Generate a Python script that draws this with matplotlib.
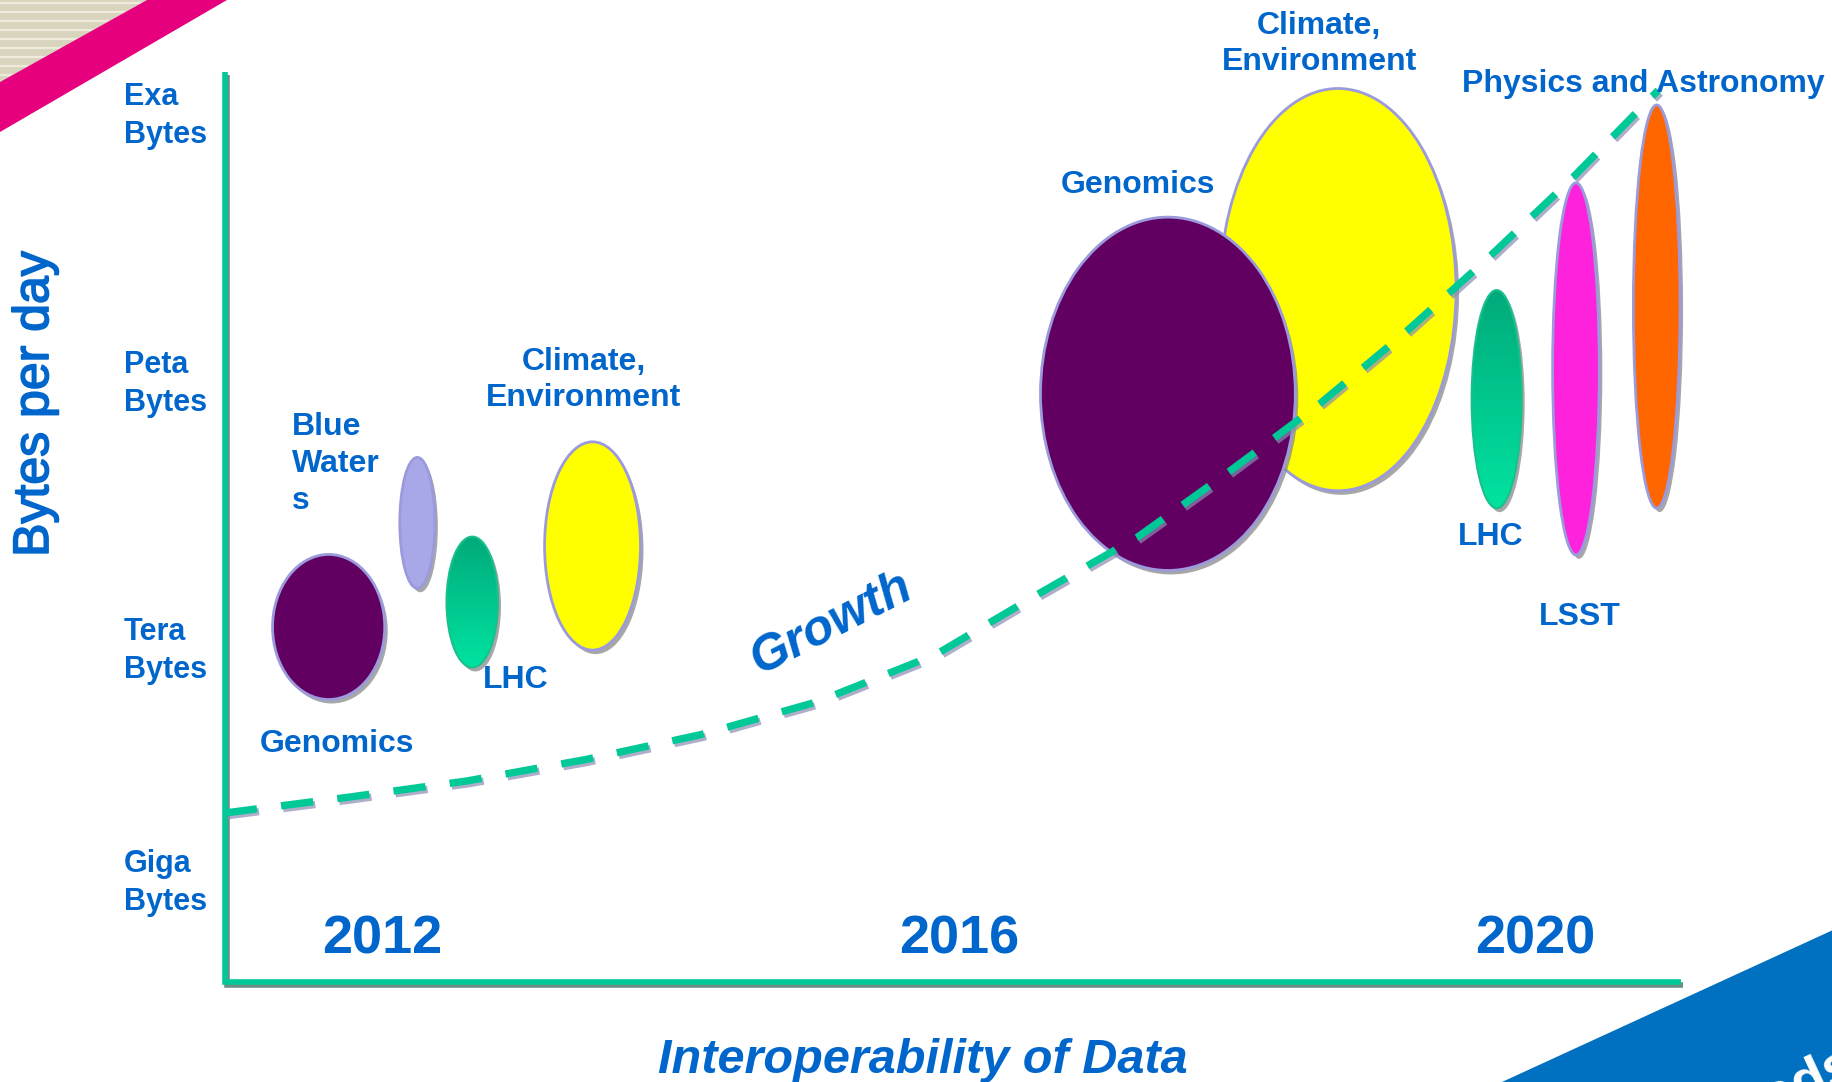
import numpy as np
import matplotlib.pyplot as plt
from matplotlib.patches import Ellipse, Polygon
from matplotlib.colors import LinearSegmentedColormap
import matplotlib.transforms as mtrans
import matplotlib.patheffects as pe

plt.rcParams['font.family'] = ['Liberation Sans', 'DejaVu Sans']

# bubbles: centre year, centre log10(bytes per day), width in years, height in decades
bubble_names = ["Genomics 2012", "Blue Waters", "LHC 2012", "Climate 2012",
                "Climate 2018", "Genomics 2018", "LHC 2020", "LSST", "Physics/Astro"]
bubble_x = [2011.63, 2012.245, 2012.626, 2013.46, 2018.63, 2017.45, 2019.73, 2020.28, 2020.84]
bubble_y = [12.27, 13.44, 12.55, 13.18, 16.06, 14.89, 14.83, 15.17, 15.87]
bubble_w = [0.778, 0.243, 0.357, 0.665, 1.637, 1.767, 0.347, 0.324, 0.324]
bubble_h = [1.63, 1.47, 1.47, 2.34, 4.52, 3.97, 2.45, 4.18, 4.53]
bubble_colors = ["#620062", "#A8A8E8", "grad", "#FFFF00", "#FFFF00",
                 "#620062", "grad", "#FF22DD", "#FF6600"]

# growth curve (dashed)
growth_year = [2010.91, 2011.78, 2012.59, 2013.41, 2014.21, 2015.02, 2015.84, 2016.54,
               2017.24, 2017.87, 2018.49, 2019.09, 2019.68, 2020.24, 2020.85]
growth_logb = [10.18, 10.36, 10.54, 10.78, 11.06, 11.43, 11.96, 12.63,
               13.28, 14.01, 14.76, 15.57, 16.43, 17.29, 18.30]

# annotations
label_text = ["Genomics", "Blue\nWater\ns", "LHC", "Climate,\nEnvironment", "Genomics",
              "Climate,\nEnvironment", "Physics and Astronomy", "LHC", "LSST"]
label_x = [2011.69, 2011.378, 2012.93, 2013.40, 2017.24, 2018.50, 2020.75, 2019.69, 2020.31]
label_y = [10.95, 14.10, 11.67, 15.045, 17.24, 18.82, 18.37, 13.285, 12.38]
label_ha = ["center", "left", "center", "center", "center", "center", "center", "center", "center"]

ytick_labels = ["Exa\nBytes", "Peta\nBytes", "Tera\nBytes", "Giga\nBytes"]
ytick_pos = [18.01, 15.0, 12.0, 9.39]
year_ticks = [2012, 2016, 2020]

W, H = 1833, 1082
BLUE = "#0066CC"
GREEN = "#00C896"

fig = plt.figure(figsize=(W / 100, H / 100), dpi=100)
ax = fig.add_axes([0, 0, 1, 1])
ax.set_axis_off()

# pixel-space transform for the slide decorations
px = mtrans.Affine2D().scale(1 / W, -1 / H).translate(0, 1) + fig.transFigure

# top-left striped corner and pink band
beige = Polygon([(0, 0), (147, 0), (0, 82)], closed=True, transform=px,
                facecolor="#D8D4BE", edgecolor="none", zorder=1)
fig.patches.append(beige)
for yy in np.arange(3, 85, 9):
    ln = plt.Line2D([0, 160], [yy, yy], transform=px, color="#EEEBDD", lw=1.6, zorder=1.1)
    ln.set_clip_path(beige)
    fig.lines.append(ln)
fig.patches.append(Polygon([(147, 0), (227, 0), (0, 132), (0, 82)], closed=True,
                           transform=px, facecolor="#E6007E", edgecolor="none", zorder=1.2))

# bottom-right blue triangle
tri = Polygon([(1502, 1082), (1833, 930), (1833, 1082)], closed=True, transform=px,
              facecolor="#0070C0", edgecolor="none", zorder=1)
fig.patches.append(tri)
t = fig.text(1708 / W, 1 - 1144 / H, "Needs", transform=fig.transFigure, color="white",
             fontsize=40, fontweight="bold", rotation=25, rotation_mode="anchor",
             ha="left", va="baseline", zorder=2)
t.set_clip_path(tri)

xmin = 2012 - 382 / 144.2
xmax = 2012 + (W - 382) / 144.2
ymax = 12 + 651 / 89
ymin = 12 - (H - 651) / 89

# axes lines with shadow
ax_x0, ax_x1, ax_y0, ax_y1 = 2010.91, 2021.01, 8.28, 18.51
shadow_tr = mtrans.offset_copy(ax.transData, fig=fig, x=2, y=-3, units="dots")
for tr, col in [(shadow_tr, "#6E8C84"), (ax.transData, GREEN)]:
    ax.plot([ax_x0, ax_x0, ax_x1], [ax_y1, ax_y0, ax_y0], color=col, lw=4,
            solid_capstyle="butt", solid_joinstyle="miter", transform=tr, zorder=2)

# bubbles
green_cmap = LinearSegmentedColormap.from_list("lhc", ["#00E3A0", "#00AA7A"])
grad = np.linspace(0, 1, 256).reshape(-1, 1)
ell_shadow = mtrans.offset_copy(ax.transData, fig=fig, x=3, y=-4, units="dots")
for i in range(len(bubble_x)):
    z = 3 + i * 0.1
    cx, cy, w, h = bubble_x[i], bubble_y[i], bubble_w[i], bubble_h[i]
    ax.add_patch(Ellipse((cx, cy), w, h, facecolor="#8A8A8A", edgecolor="none",
                         alpha=0.75, transform=ell_shadow, zorder=z))
    if bubble_colors[i] == "grad":
        e = Ellipse((cx, cy), w, h, facecolor="none", edgecolor="#19C08E", lw=1.5, zorder=z + 0.02)
        ax.add_patch(e)
        im = ax.imshow(grad, cmap=green_cmap, origin="lower", aspect="auto",
                       extent=(cx - w / 2, cx + w / 2, cy - h / 2, cy + h / 2), zorder=z + 0.01)
        im.set_clip_path(e)
    else:
        ax.add_patch(Ellipse((cx, cy), w, h, facecolor=bubble_colors[i],
                             edgecolor="#9A9ADC", lw=2, zorder=z + 0.01))

# growth curve
ax.plot(growth_year, growth_logb, color=GREEN, lw=5.3, dashes=(4.4, 3.3),
        dash_capstyle="butt", zorder=6,
        path_effects=[pe.SimpleLineShadow(offset=(1.5, -2), shadow_color="#8C8CB4", alpha=0.7),
                      pe.Normal()])

# labels
for txt, x, y, ha in zip(label_text, label_x, label_y, label_ha):
    ax.text(x, y, txt, color=BLUE, fontsize=23, fontweight="bold", ha=ha, va="center",
            linespacing=1.3, zorder=7)

ax.text(2015.12, 12.31, "Growth", color=BLUE, fontsize=36, fontweight="bold",
        fontstyle="italic", rotation=27, ha="center", va="center", zorder=7)

for lab, y in zip(ytick_labels, ytick_pos):
    ax.text(2010.211, y, lab, color=BLUE, fontsize=22, fontweight="bold", ha="left",
            va="center", linespacing=1.35, zorder=7)

for yr in year_ticks:
    ax.text(yr, 8.596, str(yr), color=BLUE, fontsize=39, fontweight="bold",
            ha="center", va="baseline", zorder=7)

ax.text(2009.594, 14.775, "Bytes per day", color=BLUE, fontsize=36, rotation=90,
        ha="center", va="center", zorder=7,
        path_effects=[pe.withStroke(linewidth=1.2, foreground=BLUE)])
ax.text(2015.752, 7.258, "Interoperability of Data", color=BLUE, fontsize=35,
        fontweight="bold", fontstyle="italic", ha="center", va="baseline", zorder=7)

ax.set_xlim(xmin, xmax)
ax.set_ylim(ymin, ymax)

fig.savefig("out.png", dpi=100, facecolor="white")
